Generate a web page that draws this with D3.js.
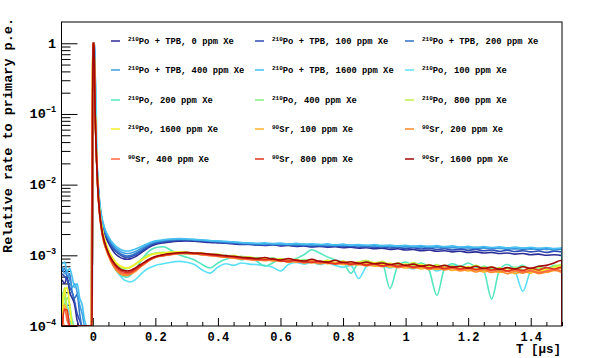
<!DOCTYPE html>
<html><head><meta charset="utf-8">
<script src="https://cdn.jsdelivr.net/npm/d3@7"></script>
<style>body{margin:0;background:#fff} svg{display:block} text{font-family:"Liberation Mono","DejaVu Sans Mono",monospace;font-weight:bold}</style>
</head><body><svg id="c" width="610" height="358"></svg>
<script>
// time bins (microseconds)
const TIME = [
 -0.098,-0.09,-0.082,-0.074,-0.066,-0.058,-0.05,-0.042,-0.034,-0.026,-0.018,-0.01, -0.005,-0.002,0,0.004,0.006,0.01,
 0.014,0.018,0.022,0.026,0.03,0.035,0.04,0.05,0.06,0.07,0.08,0.09,0.1,0.11, 0.12,0.135,0.15,0.165,0.18,0.2,
 0.225,0.25,0.275,0.3,0.325,0.35,0.375,0.4,0.425,0.45,0.475,0.5,0.525,
 0.55,0.575,0.6,0.625,0.65,0.675,0.7,0.725,0.75,0.775,0.8,0.825,0.85,
 0.875,0.9,0.925,0.95,0.975,1,1.025,1.05,1.075,1.1,1.125,1.15,1.175,
 1.2,1.225,1.25,1.275,1.3,1.325,1.35,1.375,1.4,1.425,1.45,1.475,1.5];

// relative rate, in units of 1e-3
const S1 = [0.45,0.4,0.5,0.3,0.25,0.2,0.12,0,0,0,0,0, 0,0,1000,1000,240,45,
 15,7.5,4.7,3.4,2.7,2.2,1.9,1.5,1.25,1.08,0.98,0.92,0.89,0.88, 0.89,0.95,1.05,1.17,1.3,1.42,
 1.5,1.55,1.58,1.6,1.58,1.55,1.52,1.5,1.48,1.45,1.42,1.44,1.4,
 1.38,1.41,1.36,1.38,1.34,1.36,1.31,1.34,1.3,1.32,1.28,1.3,1.26,
 1.28,1.24,1.26,1.21,1.24,1.19,1.21,1.16,1.19,1.14,1.16,1.12,1.14,
 1.1,1.12,1.08,1.1,1.06,1.08,1.04,1.06,1.02,1.04,1.0,1.02,0.99];
const S2 = [0.55,0.5,0.45,0.35,0.3,0.22,0.15,0.12,0,0,0,0, 0,0,1000,1000,250,48,
 16,8,5.0,3.6,2.85,2.35,2.0,1.62,1.35,1.18,1.07,1.0,0.95,0.94, 0.95,1.01,1.1,1.22,1.35,1.48,
 1.55,1.6,1.63,1.64,1.62,1.59,1.56,1.53,1.5,1.48,1.45,1.43,1.41,
 1.39,1.42,1.38,1.4,1.36,1.39,1.34,1.37,1.33,1.36,1.32,1.34,1.3,
 1.33,1.29,1.31,1.27,1.3,1.25,1.28,1.23,1.26,1.21,1.24,1.19,1.22,
 1.18,1.21,1.16,1.19,1.14,1.18,1.13,1.16,1.12,1.15,1.1,1.14,1.12];
const S3 = [0.6,0.65,0.5,0.55,0.3,0.25,0.28,0.15,0.1,0,0,0, 0,0,300,1000,1000,60,
 17,8.5,5.2,3.8,3.0,2.45,2.1,1.7,1.42,1.25,1.13,1.05,1.0,0.98, 0.99,1.05,1.15,1.28,1.4,1.52,
 1.58,1.63,1.66,1.66,1.64,1.61,1.58,1.55,1.52,1.5,1.47,1.45,1.43,
 1.45,1.41,1.44,1.4,1.43,1.38,1.41,1.37,1.4,1.36,1.39,1.35,1.38,
 1.33,1.36,1.32,1.35,1.3,1.34,1.29,1.33,1.28,1.32,1.27,1.3,1.26,
 1.29,1.25,1.28,1.24,1.27,1.22,1.26,1.21,1.25,1.2,1.24,1.19,1.23];
const S4 = [0.7,0.55,0.6,0.45,0.35,0.4,0.3,0.2,0.15,0,0,0, 0,110,300,1000,1000,65,
 18,9,5.5,4.0,3.15,2.6,2.2,1.78,1.5,1.32,1.2,1.12,1.08,1.06, 1.07,1.12,1.22,1.33,1.45,1.56,
 1.62,1.67,1.7,1.69,1.66,1.63,1.6,1.58,1.55,1.53,1.5,1.48,1.46,
 1.44,1.47,1.42,1.45,1.41,1.44,1.39,1.42,1.38,1.41,1.37,1.4,1.36,
 1.39,1.34,1.37,1.33,1.36,1.31,1.35,1.3,1.34,1.29,1.33,1.28,1.31,
 1.27,1.3,1.26,1.29,1.25,1.28,1.23,1.27,1.22,1.26,1.21,1.25,1.22];
const S5 = [0.75,0.8,0.6,0.65,0.5,0.35,0.4,0.25,0.2,0.12,0,0, 0,0,250,1000,1000,70,
 19,9.5,5.8,4.2,3.3,2.7,2.3,1.85,1.57,1.4,1.28,1.2,1.16,1.15, 1.16,1.22,1.3,1.4,1.5,1.6,
 1.66,1.7,1.72,1.7,1.68,1.66,1.62,1.6,1.58,1.55,1.52,1.5,1.48,
 1.5,1.46,1.49,1.44,1.48,1.43,1.46,1.42,1.45,1.4,1.44,1.39,1.42,
 1.38,1.42,1.37,1.4,1.35,1.39,1.34,1.38,1.33,1.37,1.32,1.36,1.3,
 1.34,1.29,1.33,1.28,1.32,1.27,1.31,1.26,1.3,1.25,1.29,1.24,1.28];
const S6 = [0.3,0.25,0.2,0.15,0.12,0,0,0,0,0,0,0, 0,0,1000,1000,280,280,
 15,7,4.2,3.0,2.3,1.8,1.5,1.1,0.85,0.68,0.57,0.5,0.45,0.43, 0.42,0.45,0.52,0.6,0.66,0.72,
 0.76,0.8,0.82,0.8,0.74,0.62,0.56,0.68,0.76,0.72,0.78,0.75,0.74,
 0.72,0.68,0.6,0.74,0.79,0.75,0.8,0.74,0.78,0.72,0.68,0.72,0.47,
 0.7,0.78,0.72,0.66,0.74,0.7,0.64,0.72,0.68,0.6,0.66,0.72,0.7,
 0.66,0.62,0.7,0.64,0.6,0.66,0.58,0.31,0.6,0.68,0.62,0.7,0.66];
const S7 = [0.2,0.25,0.15,0.12,0,0,0,0,0,0,0,0, 0,0,1000,1000,240,45,
 14,6.5,3.9,2.75,2.1,1.65,1.37,1.02,0.8,0.66,0.57,0.52,0.5,0.49, 0.52,0.62,0.78,0.98,1.15,1.28,
 1.32,1.18,1.02,0.94,0.86,0.74,0.66,0.78,0.88,0.94,0.86,0.9,0.82,
 0.7,0.78,0.88,0.8,0.9,1.02,1.2,1.08,0.95,0.86,0.8,0.56,0.78,
 0.8,0.72,0.78,0.34,0.7,0.8,0.72,0.78,0.62,0.27,0.66,0.76,0.7,
 0.78,0.68,0.6,0.24,0.62,0.74,0.66,0.72,0.6,0.7,0.64,0.72,0.68];
const S8 = [0.3,0.2,0.25,0.2,0.12,0,0,0,0,0,0,0, 0,0,1000,1000,240,45,
 14.5,6.8,4.1,2.9,2.25,1.78,1.5,1.12,0.9,0.77,0.69,0.65,0.64,0.65, 0.68,0.74,0.84,0.95,1.02,1.08,
 1.1,1.06,1.1,1.04,1.07,1.0,1.03,0.96,1.0,0.93,0.97,0.9,0.93,
 0.88,0.92,0.84,0.88,0.82,0.87,0.83,0.79,0.85,0.78,0.82,0.75,0.8,
 0.84,0.76,0.8,0.72,0.77,0.7,0.78,0.72,0.68,0.74,0.66,0.71,0.64,
 0.68,0.62,0.7,0.64,0.67,0.6,0.68,0.62,0.58,0.66,0.62,0.7,0.68];
const S9 = [0.2,0.35,0.15,0.1,0,0,0,0,0,0,0,0, 0,140,1000,1000,240,45,
 15,7,4.2,3.0,2.35,1.85,1.55,1.17,0.95,0.81,0.73,0.68,0.66,0.66, 0.68,0.75,0.83,0.92,1.0,1.06,
 1.08,1.12,1.08,1.1,1.05,1.08,1.02,1.04,0.97,1.0,0.94,0.95,0.9,
 0.92,0.86,0.9,0.84,0.87,0.82,0.86,0.8,0.84,0.78,0.82,0.76,0.8,
 0.84,0.78,0.82,0.74,0.78,0.72,0.79,0.7,0.74,0.67,0.72,0.65,0.7,
 0.67,0.72,0.64,0.68,0.62,0.66,0.6,0.7,0.63,0.68,0.62,0.7,0.74];
const S10 = [0.15,0.3,0.35,0.2,0,0,0,0,0,0,0,0, 0,160,1000,1000,250,48,
 15,7,4.3,3.1,2.4,1.9,1.6,1.2,0.98,0.84,0.75,0.7,0.67,0.66, 0.68,0.74,0.82,0.9,0.98,1.05,
 1.08,1.1,1.12,1.1,1.08,1.06,1.03,1.0,0.97,0.95,0.92,0.9,0.88,
 0.9,0.85,0.88,0.83,0.87,0.82,0.85,0.8,0.84,0.79,0.82,0.77,0.8,
 0.76,0.79,0.74,0.77,0.72,0.75,0.7,0.74,0.68,0.72,0.67,0.7,0.66,
 0.69,0.64,0.67,0.62,0.66,0.61,0.65,0.6,0.64,0.6,0.63,0.66,0.7];
const S11 = [0.12,0.2,0.15,0,0,0,0,0,0,0,0,0, 0,0,1000,1000,240,45,
 13,6.1,3.7,2.6,2.0,1.57,1.32,1.0,0.8,0.68,0.6,0.56,0.54,0.53, 0.55,0.6,0.68,0.77,0.86,0.95,
 0.99,1.03,1.06,1.07,1.05,1.02,1.0,0.97,0.95,0.92,0.9,0.88,0.86,
 0.84,0.87,0.82,0.85,0.8,0.83,0.78,0.8,0.76,0.79,0.74,0.77,0.73,
 0.75,0.7,0.73,0.68,0.71,0.66,0.69,0.64,0.67,0.63,0.66,0.61,0.64,
 0.6,0.63,0.58,0.62,0.57,0.6,0.55,0.59,0.56,0.6,0.57,0.62,0.66];
const S12 = [0.15,0.1,0,0,0,0,0,0,0,0,0,0, 0,0,1000,1000,240,45,
 13,6.0,3.7,2.6,1.98,1.55,1.3,0.98,0.78,0.66,0.58,0.54,0.52,0.52, 0.54,0.59,0.67,0.75,0.84,0.93,
 0.98,1.02,1.05,1.06,1.04,1.02,0.99,0.96,0.94,0.91,0.89,0.87,0.85,
 0.87,0.83,0.85,0.8,0.83,0.78,0.81,0.76,0.79,0.75,0.77,0.73,0.75,
 0.71,0.74,0.69,0.72,0.67,0.7,0.66,0.68,0.63,0.66,0.62,0.65,0.6,
 0.63,0.58,0.62,0.57,0.6,0.55,0.59,0.56,0.6,0.55,0.58,0.61,0.57];
const S13 = [0.1,0.18,0.12,0,0,0,0,0,0,0,0,0, 0,130,1000,1000,240,45,
 13.5,6.3,3.8,2.7,2.05,1.6,1.35,1.02,0.82,0.7,0.62,0.57,0.55,0.55, 0.56,0.61,0.68,0.76,0.85,0.94,
 0.99,1.03,1.06,1.07,1.05,1.03,1.0,0.98,0.95,0.93,0.9,0.88,0.87,
 0.85,0.88,0.83,0.86,0.81,0.79,0.83,0.78,0.8,0.76,0.78,0.74,0.76,
 0.72,0.75,0.7,0.73,0.68,0.71,0.67,0.7,0.65,0.68,0.64,0.67,0.63,
 0.66,0.62,0.65,0.6,0.63,0.59,0.62,0.58,0.61,0.57,0.6,0.63,0.6];
const S14 = [0,0.17,0.17,0,0,0,0,0,0,0,0,0, 0,0,1000,1000,235,42,
 14,6.5,3.9,2.75,2.1,1.65,1.38,1.05,0.85,0.73,0.65,0.6,0.58,0.57, 0.58,0.63,0.7,0.78,0.86,0.95,
 1.0,1.04,1.07,1.08,1.06,1.05,1.02,0.99,0.97,0.95,0.92,0.9,0.88,
 0.87,0.9,0.84,0.82,0.86,0.81,0.79,0.83,0.78,0.76,0.8,0.75,0.77,
 0.73,0.76,0.71,0.74,0.7,0.72,0.68,0.71,0.66,0.69,0.65,0.68,0.64,
 0.67,0.63,0.66,0.62,0.65,0.6,0.64,0.61,0.66,0.62,0.67,0.64,0.68];
const S15 = [0,0,0,0,0,0,0,0,0,0,0,0, 0,0,1000,1000,230,40,
 14,6.5,4.0,2.8,2.15,1.7,1.42,1.08,0.88,0.76,0.68,0.63,0.61,0.6, 0.61,0.66,0.73,0.8,0.88,0.96,
 1.02,1.06,1.09,1.1,1.08,1.07,1.04,1.02,0.99,0.97,0.94,0.92,0.9,
 0.93,0.88,0.86,0.9,0.85,0.83,0.88,0.82,0.8,0.85,0.79,0.81,0.77,
 0.8,0.76,0.78,0.74,0.77,0.72,0.75,0.7,0.73,0.69,0.72,0.68,0.7,
 0.66,0.7,0.65,0.68,0.63,0.67,0.64,0.69,0.65,0.7,0.72,0.78,0.85];

const SERIES = [S1,S2,S3,S4,S5,S6,S7,S8,S9,S10,S11,S12,S13,S14,S15];
const SERIES_ISOTOPE = ["210","210","210","210","210","210","210","210","210","210","90","90","90","90","90"];
const SERIES_TEXT = ["Po + TPB, 0 ppm Xe","Po + TPB, 100 ppm Xe","Po + TPB, 200 ppm Xe",
 "Po + TPB, 400 ppm Xe","Po + TPB, 1600 ppm Xe","Po, 100 ppm Xe",
 "Po, 200 ppm Xe","Po, 400 ppm Xe","Po, 800 ppm Xe",
 "Po, 1600 ppm Xe","Sr, 100 ppm Xe","Sr, 200 ppm Xe",
 "Sr, 400 ppm Xe","Sr, 800 ppm Xe","Sr, 1600 ppm Xe"];
const SERIES_COLORS = ["#2c2c96","#2f4db4","#2f72c8","#3c9ee0","#45c0f0","#5ce0f5","#55e6c0","#86f08a",
 "#c2f046","#f2f028","#ffb428","#ff8a28","#ff6444","#e03420","#a00808"];
const X_MAJOR = [0,0.2,0.4,0.6,0.8,1,1.2,1.4];
const X_MAJOR_LABELS = ["0","0.2","0.4","0.6","0.8","1","1.2","1.4"];
const Y_DECADES = [1e-4,1e-3,1e-2,1e-1,1];
const Y_LABEL_BASE = ["10","10","10","10","1"];
const Y_LABEL_EXP = ["\u22124","\u22123","\u22122","\u22121",""];
const UNIT = 1e-3;
const YMIN = 1e-4, YMAX = 2;

const svg = d3.select("#c");
const L = 61.5, R = 562, T = 22, B = 326;
const x = d3.scaleLinear().domain([-0.1,1.5]).range([L,R]);
const y = d3.scaleLog().domain([YMIN,YMAX]).range([B,T]);

svg.append("defs").append("clipPath").attr("id","clip")
  .append("rect").attr("x",L).attr("y",T).attr("width",R-L).attr("height",B-T);

// axes
const xMinor = d3.range(-0.05,1.5001,0.05).map(v=>+v.toFixed(2)).filter(v=>!X_MAJOR.some(m=>Math.abs(m-v)<1e-6));
svg.append("g").attr("transform",`translate(0,${B})`)
  .call(d3.axisBottom(x).tickValues(xMinor).tickSize(-4).tickFormat(""))
  .call(g=>g.select(".domain").remove());
const gx = svg.append("g").attr("transform",`translate(0,${B})`)
  .call(d3.axisBottom(x).tickValues(X_MAJOR).tickSize(-8).tickPadding(6).tickFormat((d,i)=>X_MAJOR_LABELS[i]));
gx.select(".domain").remove();
gx.selectAll("text").attr("font-size",12).attr("fill","#000").attr("dy","0.71em").attr("font-family","Liberation Mono").attr("font-weight","bold");

const yMinor = [];
Y_DECADES.forEach(d=>{ for(let k=2;k<=9;k++){ const v=d*k; if(v<YMAX) yMinor.push(v);} });
svg.append("g").attr("transform",`translate(${L},0)`)
  .call(d3.axisLeft(y).tickValues(yMinor).tickSize(-9).tickFormat(""))
  .call(g=>g.select(".domain").remove());
const gy = svg.append("g").attr("transform",`translate(${L},0)`)
  .call(d3.axisLeft(y).tickValues(Y_DECADES).tickSize(-16).tickFormat(""));
gy.select(".domain").remove();
svg.selectAll(".tick line").attr("stroke","#000");

const yl = svg.append("g");
Y_DECADES.forEach((d,i)=>{
  const t = yl.append("text").attr("x",56).attr("y",y(d)+4.5).attr("text-anchor","end")
    .attr("font-size",13.5).attr("fill","#000");
  t.append("tspan").text(Y_LABEL_BASE[i]);
  if(Y_LABEL_EXP[i]) t.append("tspan").attr("font-size",8.5).attr("dy",-6).text(Y_LABEL_EXP[i]);
});

// curves
const line = d3.line().x(d=>x(d[0])).y(d=>y(Math.max(d[1]*UNIT, YMIN))).curve(d3.curveMonotoneX);
const gc = svg.append("g").attr("clip-path","url(#clip)");
SERIES.forEach((vals,i)=>{
  const pts = TIME.map((t,j)=>[t, vals[j]]);
  pts.push([TIME[TIME.length-1]+1e-6, 0]);
  gc.append("path").attr("d",line(pts)).attr("fill","none")
    .attr("stroke",SERIES_COLORS[i]).attr("stroke-width",1.6).attr("stroke-linejoin","round");
});

// frame
svg.append("rect").attr("x",L).attr("y",T).attr("width",R-L).attr("height",B-T)
  .attr("fill","none").attr("stroke","#000").attr("stroke-width",1);

// legend
const colX = [111,255,405], rowY = [41,70,100,129,159];
SERIES.forEach((s,i)=>{
  const cx = colX[i%3], cy = rowY[Math.floor(i/3)];
  svg.append("line").attr("x1",cx).attr("x2",cx+9).attr("y1",cy).attr("y2",cy)
    .attr("stroke",SERIES_COLORS[i]).attr("stroke-width",1.5);
  const t = svg.append("text").attr("x",cx+17).attr("y",cy+3).attr("font-size",8.8).attr("fill","#000");
  t.append("tspan").attr("font-size",6).attr("dy",-3).text(SERIES_ISOTOPE[i]);
  t.append("tspan").attr("dy",3).text(SERIES_TEXT[i]);
});

// titles
svg.append("text").attr("transform","translate(12,18) rotate(-90)").attr("text-anchor","end")
  .attr("font-size",13.5).attr("fill","#000").text("Relative rate to primary p.e.");
svg.append("text").attr("x",561).attr("y",353).attr("text-anchor","end")
  .attr("font-size",12.5).attr("fill","#000").text("T [\u03bcs]");
</script></body></html>
